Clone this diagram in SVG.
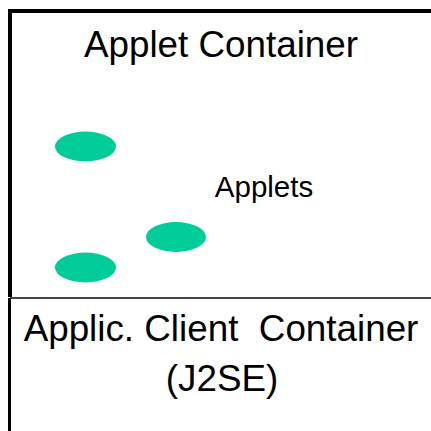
<svg xmlns="http://www.w3.org/2000/svg" width="431" height="431" viewBox="0 0 431 431">
<style>
.t{font-family:"Liberation Sans",Arial,sans-serif;fill:#000;text-anchor:middle}
.a{fill:#00CC99}
</style>
<rect width="431" height="431" fill="#fff"/>
<g id="client-container">
<path d="M9.5 298 V431" stroke="#000" stroke-width="3" fill="none"/>
<path d="M10 298 H440" stroke="#444" stroke-width="2" fill="none"/>
<text class="t" x="221" y="341" font-size="36.8" xml:space="preserve">Applic. Client  Container</text>
<text class="t" x="222" y="391" font-size="36.8">(J2SE)</text>
</g>
<g id="applet-container">
<path d="M10 297 V11 H440" stroke="#000" stroke-width="4" fill="none"/>
<text class="t" x="221" y="57" font-size="36.8">Applet Container</text>
</g>
<g id="applets">
<ellipse class="a" cx="85.5" cy="146.5" rx="30.5" ry="15"/>
<ellipse class="a" cx="176" cy="237" rx="30" ry="15"/>
<ellipse class="a" cx="85.5" cy="267.5" rx="30.5" ry="15"/>
<text class="t" x="264" y="196.5" font-size="29.5">Applets</text>
</g>
</svg>
